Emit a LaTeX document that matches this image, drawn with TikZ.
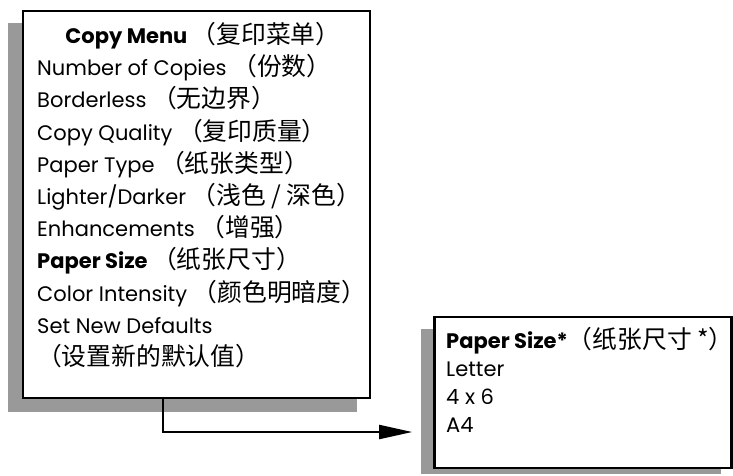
\documentclass[tikz,border=0pt]{standalone}
\usepackage{fontspec}
\setmainfont{Poppins}
\newfontfamily\cjk[Scale=1.18]{Noto Sans CJK SC}
\usetikzlibrary{arrows.meta}
\definecolor{shadowgray}{RGB}{153,153,153}
\begin{document}
\begin{tikzpicture}[x=1pt,y=-1pt,
  panel/.style={draw=black,line width=2.6pt,fill=white,inner sep=0pt,minimum width=#1},
  shade/.style={fill=shadowgray,draw=none,inner sep=0pt},
  item/.style={anchor=base west,inner sep=0pt,font=\fontsize{21}{25}\selectfont},
  conn/.style={draw=black,line width=2pt,-{Triangle[length=33pt,width=14pt]}}]
\useasboundingbox (0,0) rectangle (733,475);
% shadows
\node[shade,minimum width=349pt,minimum height=389pt] (menushadow) at (182.5,217) {};
\node[shade,minimum width=300pt,minimum height=145pt] (sizeshadow) at (571,401.5) {};
% boxes
\node[panel=347pt,minimum height=387pt] (menu) at (196.5,204.5) {};
\node[panel=297pt,minimum height=151pt] (size) at (583,392.5) {};
% menu text
\node[item,anchor=base] (t0) at (203,43) {\bfseries Copy Menu {\cjk\mdseries （复印菜单）}};
\node[item] (t1) at (37,75) {Number of Copies {\cjk （份数）}};
\node[item] (t2) at (37,107) {Borderless {\cjk （无边界）}};
\node[item] (t3) at (37,140) {Copy Quality {\cjk （复印质量）}};
\node[item] (t4) at (37,172) {Paper Type {\cjk （纸张类型）}};
\node[item] (t5) at (37,204) {Lighter/Darker {\cjk （浅色 / 深色）}};
\node[item] (t6) at (37,236) {Enhancements {\cjk （增强）}};
\node[item] (t7) at (37,268) {\bfseries Paper Size {\cjk\mdseries （纸张尺寸）}};
\node[item] (t8) at (37,301) {Color Intensity {\cjk （颜色明暗度）}};
\node[item] (t9) at (37,333) {Set New Defaults};
\node[item] (t10) at (37,365) {\cjk （设置新的默认值）};
% size text
\node[item] (s0) at (446,348) {\bfseries Paper Size*{\cjk\mdseries （纸张尺寸 *）}};
\node[item] (s1) at (446,376) {Letter};
\node[item] (s2) at (446,404) {4 x 6};
\node[item] (s3) at (446,432) {A4};
% connector
\draw[conn] ([xshift=-33.5pt]menu.south) |- ([xshift=-21pt,yshift=-39.5pt]size.west);
\end{tikzpicture}
\end{document}
